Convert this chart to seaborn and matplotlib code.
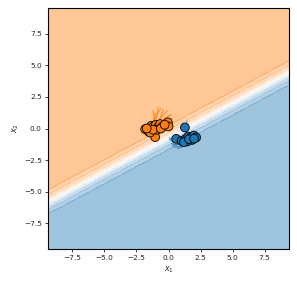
import numpy as np
import pandas as pd
import matplotlib
matplotlib.use("Agg")
import matplotlib.pyplot as plt
from matplotlib.colors import LinearSegmentedColormap
import seaborn as sns

# data points
orange_x = [-1.82, -1.56, -1.35, -1.17, -0.98, -0.78, -0.65, -0.47, -0.05, 0.0, -1.04, -1.43, -0.91, -1.2, -0.6, -1.7, -0.3]
orange_y = [-0.05, -0.24, 0.21, 0.16, 0.29, 0.16, 0.35, 0.16, 0.48, 0.16, -0.68, -0.32, -0.10, -0.1, 0.0, 0.0, 0.3]
blue_x = [1.28, 0.60, 1.02, 1.33, 1.54, 1.72, 1.98, 2.16, 1.46, 1.85, 1.20, 1.6, 2.0]
blue_y = [0.08, -0.82, -0.98, -0.82, -0.64, -0.71, -0.56, -0.71, -1.03, -0.90, -1.08, -0.85, -0.8]

# trajectories (x list, y list)
orange_traj = [
    ([-1.35, -1.0, -0.6], [0.21, 0.9, 1.6]),
    ([-0.98, -0.6, -0.1], [0.29, 0.9, 1.4]),
    ([-0.65, -0.3, 0.2], [0.35, 0.8, 1.1]),
    ([-1.17, -0.9, -0.8], [0.16, 0.9, 1.7]),
    ([-0.78, -0.4, 0.1], [0.16, 0.7, 1.0]),
    ([-1.56, -1.2, -1.0], [-0.24, 0.5, 1.2]),
    ([-0.91, -0.7, -0.4], [-0.10, 0.6, 1.5]),
    ([-1.2, -1.1, -1.2], [-0.1, 0.7, 1.4]),
    ([-0.47, -0.1, 0.3], [0.16, 0.6, 0.8]),
]
blue_traj = [
    ([1.02, 0.5, 0.1], [-0.98, -1.1, -0.9]),
    ([1.20, 0.7, 0.2], [-1.08, -1.3, -1.2]),
    ([1.46, 1.0, 0.4], [-1.03, -1.45, -1.45]),
    ([0.60, 0.3, 0.05], [-0.82, -0.85, -0.75]),
    ([1.33, 0.8, 0.3], [-0.82, -1.2, -1.35]),
    ([1.6, 1.2, 0.7], [-0.85, -1.4, -1.6]),
    ([1.28, 1.35, 1.45], [0.08, 0.35, 0.6]),
]

# decision boundary y = slope*x + offset, sharpness of the logistic
slope = 0.544
offset = -0.71
sharp = 2.3

xx, yy = np.meshgrid(np.linspace(-9.4, 9.4, 200), np.linspace(-9.55, 9.55, 200))
prob = 1 / (1 + np.exp(-sharp * (yy - (slope * xx + offset))))

sns.set_style("ticks")
fig = plt.figure(figsize=(2.97, 2.87), dpi=100)
ax = fig.add_axes([48 / 297, 38 / 287, 241 / 297, 241 / 287])

cmap = LinearSegmentedColormap.from_list("bo", ["tab:blue", "white", "tab:orange"])
ax.contourf(xx, yy, prob, levels=np.linspace(0, 1, 11), cmap=cmap, alpha=0.48)

for tx, ty in orange_traj:
    ax.plot(tx, ty, color="tab:orange", alpha=0.7, lw=0.9)
for tx, ty in blue_traj:
    ax.plot(tx, ty, color="tab:blue", alpha=0.7, lw=0.9)

df = pd.DataFrame({
    "x": orange_x + blue_x,
    "y": orange_y + blue_y,
    "c": ["o"] * len(orange_x) + ["b"] * len(blue_x),
})
sns.scatterplot(data=df, x="x", y="y", hue="c", palette={"o": "tab:orange", "b": "tab:blue"},
                s=40, edgecolor="black", linewidth=0.6, legend=False, ax=ax, zorder=3)

ax.set_xlim(-9.4, 9.4)
ax.set_ylim(-9.55, 9.55)
ax.set_xticks([-7.5, -5.0, -2.5, 0.0, 2.5, 5.0, 7.5])
ax.set_yticks([-7.5, -5.0, -2.5, 0.0, 2.5, 5.0, 7.5])
ax.tick_params(labelsize=5.3, length=2.5, width=0.6, pad=2)
ax.set_xlabel("$x_1$", fontsize=5.8, labelpad=2)
ax.set_ylabel("$x_2$", fontsize=5.8, labelpad=2)
for sp in ax.spines.values():
    sp.set_linewidth(0.8)
    sp.set_color("black")

fig.savefig("out.png", dpi=100)
